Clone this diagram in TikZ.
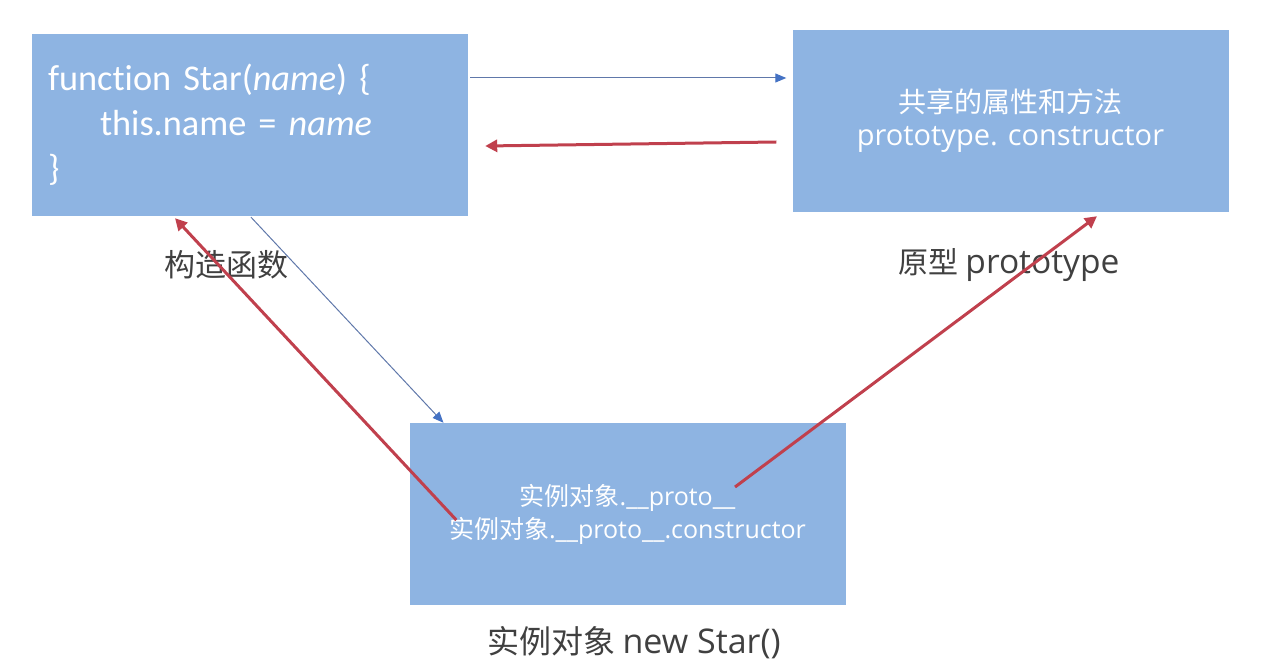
\documentclass[tikz,border=0pt]{standalone}
\usepackage{fontspec}
\setmainfont{Carlito}[Ligatures=NoCommon]
\newfontfamily\cjk{Noto Sans CJK SC}
\newfontfamily\uifont{Open Sans}
\usepackage{xcolor}
\usetikzlibrary{positioning,arrows.meta}

\definecolor{cardblue}{RGB}{142,180,226}
\definecolor{linkblue}{RGB}{96,120,170}
\definecolor{tipblue}{RGB}{68,114,196}
\definecolor{backred}{RGB}{192,64,77}
\definecolor{notegray}{RGB}{64,64,64}
\newcommand\fsz[2]{\fontsize{#1}{#2}\selectfont}
\newcommand\codefont{\fsz{36.3}{45}\spaceskip=0.2em plus 0.1em minus 0.02em\relax}

\begin{document}
\begin{tikzpicture}[
  x=1pt, y=-1pt,
  card/.style    ={rectangle, fill=cardblue, text=white, inner sep=0pt,
                   minimum width=436pt, minimum height=182pt, align=center},
  note/.style    ={text=notegray, inner sep=0pt, anchor=center},
  linkarr/.style ={draw=linkblue, line width=1pt,
                   -{Triangle[length=11pt,width=9pt,color=tipblue]}},
  backarr/.style ={draw=backred, line width=3pt,
                   -{Triangle[length=12pt,width=12pt]}},
]
\useasboundingbox (0,0) rectangle (1270,671);

% ---------- BOXES ----------
\node[card, align=left, text width=404pt, inner xsep=16pt, font=\codefont] (ctor) at (250,125)
  {function Star(\textit{name}) \{\\
   \hspace*{52pt}this.name = \textit{name}\\
   \}};
\node[card, font=\fsz{29}{33}\uifont] (proto) at (1010.5,121)
  {{\fsz{28}{33}\cjk 共享的属性和方法}\\
   prototype. constructor};
\node[card, font=\fsz{25}{33}\uifont] (inst) at (627.5,514)
  {{\cjk 实例对象}.\_\_proto\_\_\\
   {\cjk 实例对象}.\_\_proto\_\_.constructor};

% ---------- CAPTIONS ----------
\node[note] (ctorname)  at (226,265) {\fsz{31}{36}\cjk 构造函数};
\node[note] (protoname) at (1009,265) {\fsz{30}{36}{\cjk 原型} \fsz{33.5}{36}\uifont prototype};
\node[note] (instname)  at (634,643) {\fsz{32}{36}{\cjk 实例对象} \fsz{34}{36}\uifont new Star()};

% ---------- ARROWS ----------
\draw[linkarr] ([xshift=2pt,yshift=47pt]ctor.east) -- ([xshift=-6pt,yshift=43pt]proto.west);
\draw[backarr] ([xshift=-16pt,yshift=-21pt]proto.west) -- ([xshift=17pt,yshift=-21pt]ctor.east);
\draw[linkarr] ([xshift=1pt,yshift=-1pt]ctor.south) -- ([xshift=-184pt]inst.north);
\draw[backarr] ([xshift=47pt,yshift=-6pt]inst.west) -- ([xshift=-75pt,yshift=-2pt]ctor.south);
\draw[backarr] ([xshift=107.5pt,yshift=27pt]inst.center) -- ([xshift=86.5pt,yshift=-4pt]proto.south);

\end{tikzpicture}
\end{document}
